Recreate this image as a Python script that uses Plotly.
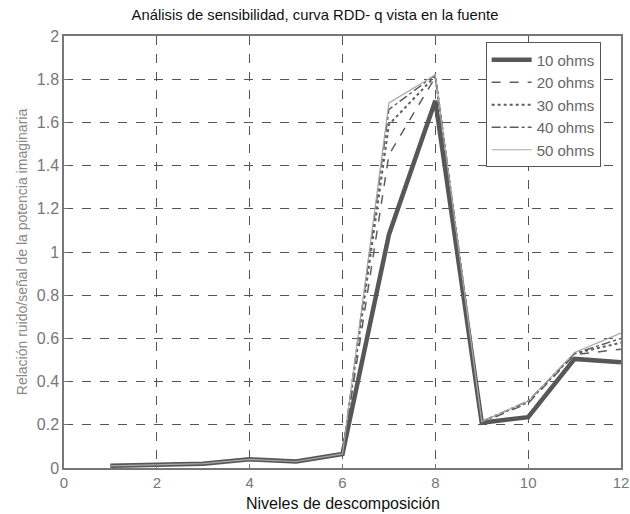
import plotly.graph_objects as go

niveles = [1, 2, 3, 4, 5, 6, 7, 8, 9, 10, 11, 12]
ohms_10 = [0.01, 0.015, 0.02, 0.04, 0.03, 0.065, 1.08, 1.70, 0.21, 0.235, 0.505, 0.49]
ohms_20 = [0.01, 0.015, 0.02, 0.04, 0.03, 0.065, 1.45, 1.81, 0.21, 0.30, 0.525, 0.55]
ohms_30 = [0.01, 0.015, 0.02, 0.04, 0.03, 0.065, 1.59, 1.815, 0.215, 0.305, 0.53, 0.58]
ohms_40 = [0.01, 0.015, 0.02, 0.04, 0.03, 0.065, 1.66, 1.82, 0.215, 0.31, 0.53, 0.60]
ohms_50 = [0.01, 0.015, 0.02, 0.04, 0.03, 0.065, 1.69, 1.82, 0.215, 0.31, 0.535, 0.625]

series = [
    ("10 ohms", ohms_10, dict(color="#575757", width=4.5, dash="solid")),
    ("20 ohms", ohms_20, dict(color="#5e5e5e", width=1.5, dash="dash")),
    ("30 ohms", ohms_30, dict(color="#5e5e5e", width=2, dash="dot")),
    ("40 ohms", ohms_40, dict(color="#5e5e5e", width=1.5, dash="dashdot")),
    ("50 ohms", ohms_50, dict(color="#a8a8a8", width=1.2, dash="solid")),
]

fig = go.Figure()
for name, vals, line in series:
    fig.add_trace(go.Scatter(x=niveles, y=vals, mode="lines", name=name, line=line))

fig.update_layout(
    width=630, height=514,
    margin=dict(l=64, r=9, t=36, b=46, autoexpand=False),
    paper_bgcolor="white", plot_bgcolor="white",
    font=dict(family="Liberation Sans, Arial, sans-serif", color="#333"),
    title=dict(text="Análisis de sensibilidad, curva RDD- q vista en la fuente",
               x=0.5, xanchor="center", y=0.982, yanchor="top",
               font=dict(size=14.8, color="#111")),
    showlegend=True,
    legend=dict(x=0.757, y=0.985, xanchor="left", yanchor="top",
                bgcolor="white", bordercolor="#555", borderwidth=1,
                font=dict(size=15, color="#666"), tracegroupgap=0,
                itemwidth=40),
    annotations=[dict(text="Niveles de descomposición", xref="paper", yref="paper",
                      x=0.5, y=-0.083, xanchor="center", yanchor="middle",
                      showarrow=False, font=dict(size=16, color="#111"))],
)
fig.update_xaxes(
    range=[0, 12], tickvals=[0, 2, 4, 6, 8, 10, 12],
    showgrid=True, gridcolor="#555", griddash="dash", gridwidth=1,
    showline=True, linecolor="#777", linewidth=1.5, mirror=True,
    ticks="inside", ticklen=4, tickcolor="#777",
    tickfont=dict(size=15, color="#777"), zeroline=False, automargin=False,
)
fig.update_yaxes(
    range=[0, 2], tickvals=[0, 0.2, 0.4, 0.6, 0.8, 1, 1.2, 1.4, 1.6, 1.8, 2],
    ticktext=["0", "0.2", "0.4", "0.6", "0.8", "1", "1.2", "1.4", "1.6", "1.8", "2"],
    showgrid=True, gridcolor="#555", griddash="dash", gridwidth=1,
    showline=True, linecolor="#777", linewidth=1.5, mirror=True,
    ticks="inside", ticklen=4, tickcolor="#777",
    tickfont=dict(size=16, color="#777"), zeroline=False,
    title=dict(text="Relación ruido/señal de la potencia imaginaria",
               font=dict(size=14, color="#888"), standoff=6),
)

fig.write_html("out.html")
